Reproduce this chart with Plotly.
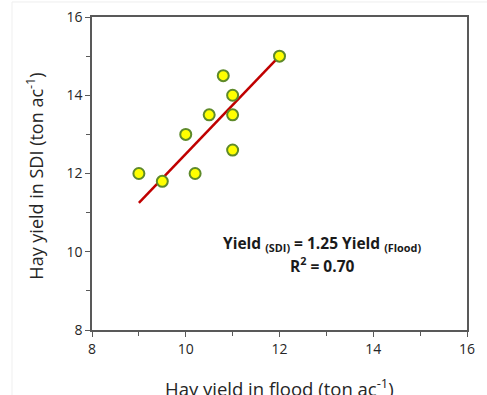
import plotly.graph_objects as go

flood_yield = [9.0, 9.5, 10.0, 10.2, 10.5, 10.8, 11.0, 11.0, 11.0, 12.0]
sdi_yield = [12.0, 11.8, 13.0, 12.0, 13.5, 14.5, 14.0, 13.5, 12.6, 15.0]
slope = 1.25
fit_x = [min(flood_yield), max(flood_yield)]
fit_y = [slope * v for v in fit_x]
tick_vals = [8, 10, 12, 14, 16]

FONT = "Open Sans, Liberation Sans, sans-serif"
TXT = "#262626"

fig = go.Figure()
fig.add_trace(go.Scatter(x=fit_x, y=fit_y, mode="lines",
                         line=dict(color="#C00000", width=2.5), showlegend=False))
fig.add_trace(go.Scatter(x=flood_yield, y=sdi_yield, mode="markers",
                         marker=dict(size=11, color="#FFFF00",
                                     line=dict(color="#5E8A2A", width=2)),
                         showlegend=False))

axis_common = dict(showgrid=False, zeroline=False, showline=True, linecolor="#595959",
                   linewidth=1.5, mirror=True, ticks="outside", ticklen=5, tickcolor="#595959",
                   tickwidth=1.2, automargin=False,
                   tickfont=dict(family=FONT, size=14, color=TXT),
                   minor=dict(ticks="outside", ticklen=4, dtick=1, tickcolor="#595959"))

fig.update_xaxes(range=[8, 16], tickvals=tick_vals, **axis_common)
fig.update_yaxes(range=[8, 16], tickvals=tick_vals, **axis_common)

fig.add_annotation(x=0.5, y=-0.183, xref="paper", yref="paper", showarrow=False,
                   yanchor="middle", text="Hay yield in flood (ton ac<sup>-1</sup>)",
                   font=dict(family=FONT, size=18.5, color=TXT))
fig.add_annotation(x=-0.152, y=0.49, xref="paper", yref="paper", showarrow=False,
                   xanchor="center", textangle=-90,
                   text="Hay yield in SDI (ton ac<sup>-1</sup>)",
                   font=dict(family=FONT, size=18, color=TXT))

fig.add_annotation(x=12.9, y=10.22, xref="x", yref="y", showarrow=False,
                   text="<b>Yield <sub>(SDI)</sub> = 1.25 Yield <sub>(Flood)</sub></b>",
                   font=dict(family=FONT, size=15.5, color="#1a1a1a"))
fig.add_annotation(x=12.9, y=9.66, xref="x", yref="y", showarrow=False,
                   text="<b>R<sup>2</sup> = 0.70</b>",
                   font=dict(family=FONT, size=15.5, color="#1a1a1a"))

# faint outer chart-area border
fig.add_shape(type="line", xref="paper", yref="paper", x0=-0.2133, x1=-0.2133,
              y0=1.048, y1=-0.3, line=dict(color="#EFEFEF", width=1))
fig.add_shape(type="line", xref="paper", yref="paper", x0=-0.2133, x1=1.1,
              y0=1.048, y1=1.048, line=dict(color="#EFEFEF", width=1))

fig.update_layout(width=487, height=395, margin=dict(l=92, r=20, t=17, b=65, autoexpand=False),
                  paper_bgcolor="white", plot_bgcolor="white")

fig.write_html("out.html", config={"displayModeBar": False},
               post_script="document.body.style.margin='0';document.body.style.overflow='hidden';")
